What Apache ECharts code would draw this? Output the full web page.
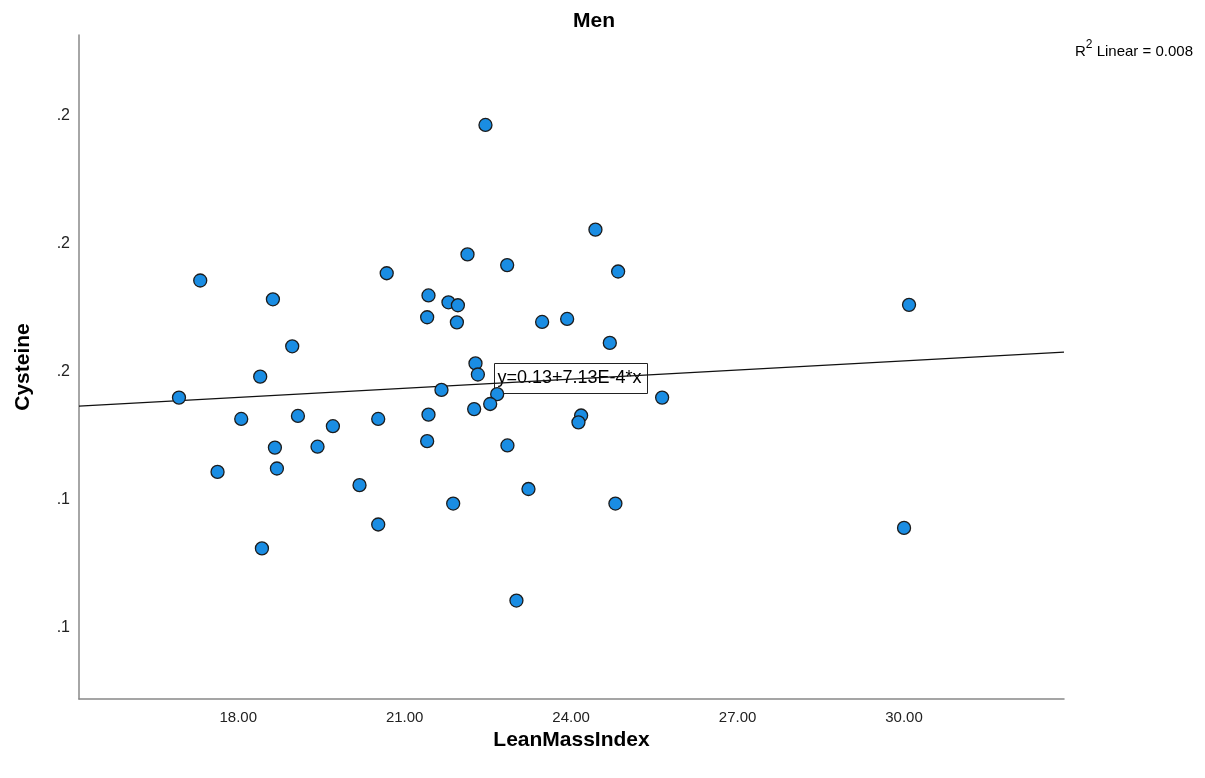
<!DOCTYPE html>
<html>
<head>
<meta charset="utf-8">
<script src="https://cdn.jsdelivr.net/npm/echarts@6/dist/echarts.min.js"></script>
<style>
html,body{margin:0;padding:0;background:#fff;}
#chart{width:1205px;height:778px;}
</style>
</head>
<body>
<div id="chart"></div>
<script>
// ---- data (LeanMassIndex, Cysteine) ----
var leanMassIndex = [
  17.315, 18.625, 20.676, 18.973, 18.396, 16.932, 18.054, 19.076, 19.706, 20.523,
  18.661, 19.429, 17.627, 18.697, 20.186, 20.523, 18.427, 22.456, 24.438, 22.132,
  22.847, 24.847, 21.429, 21.789, 21.959, 21.405, 21.941, 23.477, 23.928, 24.697,
  22.276, 22.319, 21.663, 22.667, 22.541, 22.252, 21.429, 24.180, 24.132, 21.405,
  22.852, 23.231, 21.874, 24.798, 23.014, 25.640, 30.090, 30.000
];
var cysteine = [
  0.1713, 0.1669, 0.1730, 0.1559, 0.1488, 0.1439, 0.1389, 0.1396, 0.1372, 0.1389,
  0.1322, 0.1324, 0.1265, 0.1273, 0.1234, 0.1142, 0.1086, 0.2077, 0.1832, 0.1774,
  0.1749, 0.1734, 0.1678, 0.1662, 0.1655, 0.1627, 0.1615, 0.1616, 0.1623, 0.1567,
  0.1519, 0.1493, 0.1457, 0.1447, 0.1424, 0.1412, 0.1399, 0.1397, 0.1381, 0.1337,
  0.1327, 0.1225, 0.1191, 0.1191, 0.0964, 0.1439, 0.1656, 0.1134
];
// linear fit (from the chart's equation)
var fitIntercept = 0.1311;
var fitSlope = 0.000713;
var fitLabel = 'y=0.13+7.13E-4*x';
var r2Value = '0.008';

// axis ranges & ticks
var xRange = [15.13, 32.883];
var yRange = [0.07336, 0.22875];
var xTickValues = [18, 21, 24, 27, 30];
var xTickLabels = ['18.00', '21.00', '24.00', '27.00', '30.00'];
var yTickValues = [0.09, 0.12, 0.15, 0.18, 0.21];
var yTickLabels = ['.1', '.1', '.2', '.2', '.2'];

var points = leanMassIndex.map(function (x, i) { return [x, cysteine[i]]; });
var fitLine = xRange.map(function (x) { return [x, fitIntercept + fitSlope * x]; });

function labelFor(values, labels) {
  return function (v) {
    for (var i = 0; i < values.length; i++) {
      if (Math.abs(v - values[i]) < 1e-6) return labels[i];
    }
    return '';
  };
}

var FONT = 'Arial, "Liberation Sans", sans-serif';
var chart = echarts.init(document.getElementById('chart'));
chart.setOption({
  animation: false,
  backgroundColor: '#ffffff',
  title: {
    text: 'Men',
    left: 568, top: 6,
    textStyle: { fontFamily: FONT, fontSize: 21, fontWeight: 'bold', color: '#000' }
  },
  grid: { left: 79, right: 141, top: 35, bottom: 79, containLabel: false },
  xAxis: {
    type: 'value', min: xRange[0], max: xRange[1],
    name: 'LeanMassIndex', nameLocation: 'middle', nameGap: 26,
    nameTextStyle: { fontFamily: FONT, fontSize: 21, fontWeight: 'bold', color: '#000' },
    axisLine: { show: true, onZero: false, lineStyle: { color: '#888', width: 1.5 } },
    axisTick: { show: false },
    splitLine: { show: false },
    axisLabel: {
      customValues: xTickValues,
      formatter: labelFor(xTickValues, xTickLabels),
      fontFamily: FONT, fontSize: 15, color: '#222', margin: 11
    }
  },
  yAxis: {
    type: 'value', min: yRange[0], max: yRange[1],
    name: 'Cysteine', nameLocation: 'middle', nameGap: 45, nameRotate: 90,
    nameTextStyle: { fontFamily: FONT, fontSize: 21, fontWeight: 'bold', color: '#000' },
    axisLine: { show: true, onZero: false, lineStyle: { color: '#888', width: 1.5 } },
    axisTick: { show: false },
    splitLine: { show: false },
    axisLabel: {
      customValues: yTickValues,
      formatter: labelFor(yTickValues, yTickLabels),
      fontFamily: FONT, fontSize: 16, color: '#222', margin: 9
    }
  },
  series: [
    {
      type: 'line',
      data: fitLine,
      showSymbol: false,
      symbol: 'none',
      lineStyle: { color: '#111', width: 1.4 },
      z: 2,
      silent: true
    },
    {
      type: 'scatter',
      data: points,
      symbol: 'circle',
      symbolSize: 13,
      itemStyle: { color: '#1a8de3', borderColor: '#1c1c1c', borderWidth: 1.3, opacity: 1 },
      z: 3
    }
  ],
  graphic: [
    {
      type: 'group', left: 494, top: 363, z: 10,
      children: [
        { type: 'rect', shape: { x: 0, y: 0, width: 153, height: 30 },
          style: { fill: '#fff', stroke: '#222', lineWidth: 1 } },
        { type: 'text', x: 3, y: 15,
          style: { text: fitLabel, font: '18px Arial, "Liberation Sans", sans-serif',
                   fill: '#000', verticalAlign: 'middle', textAlign: 'left' } }
      ]
    },
    {
      type: 'text', right: 12, top: 39, z: 10,
      style: {
        text: '{a|R}{s|2}{a| Linear = ' + r2Value + '}',
        rich: {
          a: { fontFamily: FONT, fontSize: 15, color: '#000', verticalAlign: 'bottom', lineHeight: 20 },
          s: { fontFamily: FONT, fontSize: 12, color: '#000', verticalAlign: 'top', lineHeight: 20, padding: [0, 0, 7, 0] }
        }
      }
    }
  ]
});
</script>
</body>
</html>
